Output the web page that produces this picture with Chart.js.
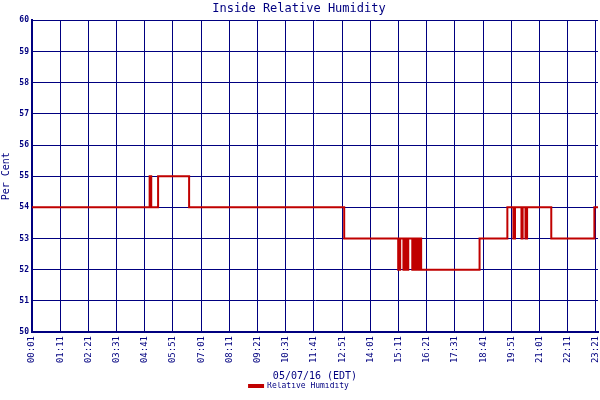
<!DOCTYPE html>
<html>
<head>
<script src="https://cdn.jsdelivr.net/npm/chart.js"></script>
<style>body{margin:0;background:#fff}</style>
</head>
<body>
<canvas id="c" width="600" height="400"></canvas>
<script>
// minutes after 00:01 and humidity that holds from that minute on
const times = [0, 292, 296, 313, 390, 775, 909, 914, 922, 925, 929, 934, 944, 947, 951, 954, 959, 962, 966, 1111, 1180, 1195, 1199, 1215, 1218, 1225, 1229, 1289, 1396, 1405];
const humidity = [54, 55, 54, 55, 54, 53, 52, 53, 52, 53, 52, 53, 52, 53, 52, 53, 52, 53, 52, 53, 54, 53, 54, 53, 54, 53, 54, 53, 54, 54];
const tickLabels = ['00:01','01:11','02:21','03:31','04:41','05:51','07:01','08:11','09:21','10:31','11:41','12:51','14:01','15:11','16:21','17:31','18:41','19:51','21:01','22:11','23:21'];
const navy = '#000080';

new Chart(document.getElementById('c'), {
  type: 'line',
  data: {
    datasets: [{
      label: 'Relative Humidity',
      data: times.map((t, i) => ({ x: t, y: humidity[i] })),
      borderColor: '#c00000',
      backgroundColor: '#c00000',
      borderWidth: 2,
      pointRadius: 0,
      stepped: true
    }]
  },
  options: {
    responsive: false,
    animation: false,
    layout: { padding: { right: 2, bottom: 0 } },
    plugins: {
      title: { display: true, text: 'Inside Relative Humidity', color: navy,
        font: { family: 'DejaVu Sans Mono', size: 12, weight: 'normal' }, padding: { top: 2, bottom: 4 } },
      legend: { position: 'bottom', labels: { color: navy, boxWidth: 14, boxHeight: 2, padding: 0,
        font: { family: 'DejaVu Sans Mono', size: 8 } } },
      tooltip: { enabled: false }
    },
    scales: {
      x: {
        type: 'linear', min: 0, max: 1405,
        afterBuildTicks: s => { s.ticks = tickLabels.map((l, i) => ({ value: i * 70 })); },
        afterFit: s => { s.height = 50; s.paddingLeft = 0; s.paddingRight = 0; },
        ticks: { color: navy, font: { family: 'DejaVu Sans Mono', size: 9 }, minRotation: 90, maxRotation: 90,
          autoSkip: false, padding: 4, callback: (v, i) => tickLabels[i] },
        grid: { color: navy, lineWidth: 1, drawTicks: false },
        border: { color: navy, width: 2 },
        title: { display: true, text: '05/07/16 (EDT)', color: navy, font: { family: 'DejaVu Sans Mono', size: 10 }, padding: 0 }
      },
      y: {
        min: 50, max: 60,
        afterFit: s => { s.width = 32; },
        ticks: { stepSize: 1, color: navy, font: { family: 'DejaVu Sans Mono', size: 8, weight: 'bold' }, padding: 3 },
        grid: { color: navy, lineWidth: 1, drawTicks: false },
        border: { color: navy, width: 2 },
        title: { display: true, text: 'Per Cent', color: navy, font: { family: 'DejaVu Sans Mono', size: 10 }, padding: 0 }
      }
    }
  }
});
</script>
</body>
</html>
